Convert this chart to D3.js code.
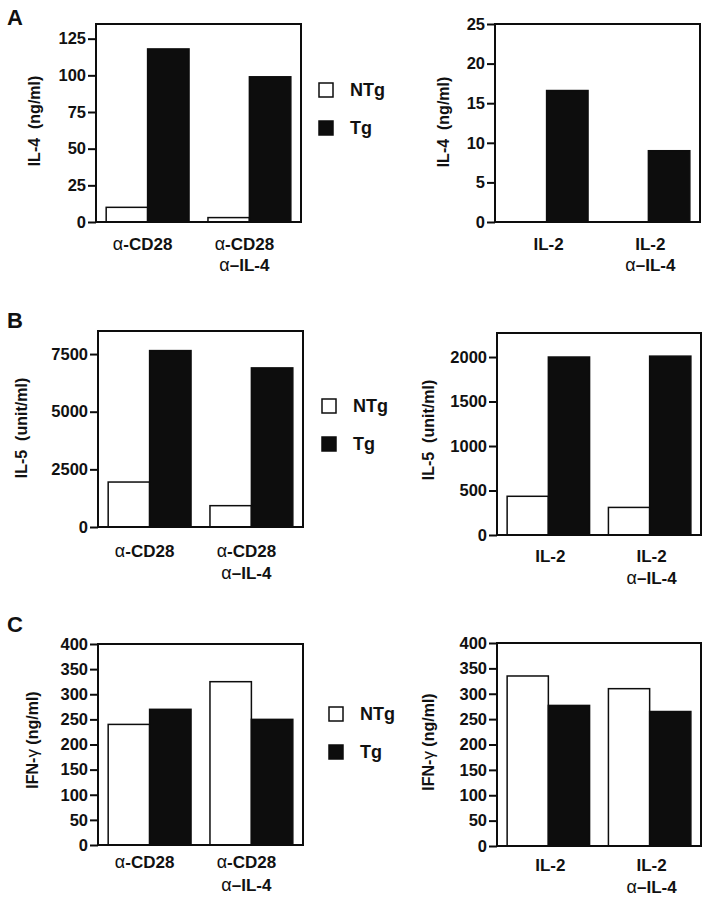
<!DOCTYPE html>
<html>
<head>
<meta charset="utf-8">
<script src="https://cdn.jsdelivr.net/npm/d3@7"></script>
<style>
  html, body { margin: 0; padding: 0; background: #fff; }
  svg { display: block; }
  text { font-family: "Liberation Sans", Arial, Helvetica, sans-serif; font-weight: bold; fill: #111; }
</style>
</head>
<body>
<svg id="chart" width="707" height="899"></svg>
<script>
// ---- data ----
const seriesNames = ["NTg", "Tg"];
const catsLeft = ["α-CD28", "α-CD28|α–IL-4"];
const catsRight = ["IL-2", "IL-2|α–IL-4"];

const il4LeftNTg = [10, 3];
const il4LeftTg = [118, 99];
const il4RightNTg = [0, 0];
const il4RightTg = [16.6, 9];

const il5LeftNTg = [1950, 925];
const il5LeftTg = [7650, 6900];
const il5RightNTg = [435, 310];
const il5RightTg = [2000, 2010];

const ifnLeftNTg = [240, 325];
const ifnLeftTg = [270, 250];
const ifnRightNTg = [335, 310];
const ifnRightTg = [277, 265];

const ticksIL4Left = [0, 25, 50, 75, 100, 125];
const ticksIL4Right = [0, 5, 10, 15, 20, 25];
const ticksIL5Left = [0, 2500, 5000, 7500];
const ticksIL5Right = [0, 500, 1000, 1500, 2000];
const ticksIFN = [0, 50, 100, 150, 200, 250, 300, 350, 400];

const titleIL4 = ["IL-4  (ng/ml)"];
const titleIL5 = ["IL-5  (unit/ml)"];
const titleIFN = ["IFN-", "γ", " (ng/ml)"];
const panelLetters = ["A", "B", "C"];

// ---- drawing ----
const svg = d3.select("#chart");
const INK = "#0d0d0d";

function drawPanel(p) {
  const g = svg.append("g");
  const y = d3.scaleLinear().domain([0, p.ymax]).range([p.y1, p.y0]);
  const x0 = d3.scaleBand().domain(p.cats).range([p.x0, p.x1])
    .paddingInner(0.186).paddingOuter(0.1);
  const x1 = d3.scaleBand().domain(seriesNames).range([0, x0.bandwidth()]);

  const rows = p.cats.map((c, i) => ({cat: c, vals: [p.ntg[i], p.tg[i]]}));
  const grp = g.selectAll("g.grp").data(rows).join("g")
    .attr("transform", d => `translate(${x0(d.cat)},0)`);
  grp.selectAll("rect").data(d => d.vals.map((v, k) => ({k, v})))
    .join("rect")
    .attr("x", d => x1(seriesNames[d.k]))
    .attr("width", x1.bandwidth())
    .attr("y", d => y(d.v))
    .attr("height", d => y(0) - y(d.v))
    .attr("fill", d => d.k === 0 ? "#fff" : INK)
    .attr("stroke", INK)
    .attr("stroke-width", 1.5);

  // frame
  g.append("rect")
    .attr("x", p.x0).attr("y", p.y0)
    .attr("width", p.x1 - p.x0).attr("height", p.y1 - p.y0)
    .attr("fill", "none").attr("stroke", INK).attr("stroke-width", 2);

  // y axis
  const ax = g.append("g").attr("transform", `translate(${p.x0},0)`)
    .call(d3.axisLeft(y).tickValues(p.ticks).tickFormat(d3.format("d"))
      .tickSize(8).tickPadding(2).tickSizeOuter(0));
  ax.select(".domain").remove();
  ax.selectAll(".tick line").attr("stroke", INK).attr("stroke-width", 2);
  ax.selectAll(".tick text").attr("font-size", 16.5).attr("fill", INK)
    .attr("font-family", "'Liberation Sans', Arial, sans-serif").attr("font-weight", "bold");

  // category labels
  rows.forEach((d, i) => {
    const lines = d.cat.split("|");
    const cx = x0(d.cat) + x0.bandwidth() / 2 + p.labelDx;
    lines.forEach((ln, j) => {
      const t = g.append("text")
        .attr("x", cx)
        .attr("y", p.y1 + p.labelOff + j * p.lineGap)
        .attr("text-anchor", "middle")
        .attr("font-size", 17);
      if (ln.startsWith("α")) {
        t.append("tspan").attr("font-weight", "normal").attr("font-size", 18).text("α");
        t.append("tspan").text(ln.slice(1));
      } else {
        t.text(ln);
      }
    });
  });

  // y title
  const tt = g.append("text")
    .attr("transform", `translate(${p.titleX + 5.5},${p.titleY}) rotate(-90)`)
    .attr("text-anchor", "middle")
    .attr("font-size", 16)
    .style("white-space", "pre");
  p.title.forEach(s => {
    const ts = tt.append("tspan").text(s);
    if (s === "γ") ts.attr("font-weight", "normal").attr("font-size", 17);
  });
}

function drawLegend(lx, ly, gap) {
  const g = svg.append("g");
  seriesNames.forEach((s, i) => {
    g.append("rect")
      .attr("x", lx).attr("y", ly + i * gap)
      .attr("width", 14).attr("height", 14)
      .attr("fill", i === 0 ? "#fff" : INK)
      .attr("stroke", INK).attr("stroke-width", 1.5);
    g.append("text")
      .attr("x", lx + 31).attr("y", ly + i * gap + 13)
      .attr("font-size", 18)
      .text(s);
  });
}

function letter(ch, x, yb) {
  svg.append("text").attr("x", x).attr("y", yb).attr("font-size", 22).text(ch);
}

// Panel A
letter(panelLetters[0], 7, 25);
drawPanel({cats: catsLeft, ntg: il4LeftNTg, tg: il4LeftTg, ymax: 135, ticks: ticksIL4Left,
  x0: 96, x1: 301, y0: 24, y1: 222, labelOff: 28, lineGap: 21, labelDx: -5,
  title: titleIL4, titleX: 34, titleY: 121});
drawPanel({cats: catsRight, ntg: il4RightNTg, tg: il4RightTg, ymax: 25, ticks: ticksIL4Right,
  x0: 495, x1: 700, y0: 24, y1: 222, labelOff: 28, lineGap: 21, labelDx: 2,
  title: titleIL4, titleX: 443, titleY: 122});
drawLegend(319, 83, 38);

// Panel B
letter(panelLetters[1], 7, 328);
drawPanel({cats: catsLeft, ntg: il5LeftNTg, tg: il5LeftTg, ymax: 8500, ticks: ticksIL5Left,
  x0: 98, x1: 303, y0: 331, y1: 527, labelOff: 30, lineGap: 22, labelDx: -5,
  title: titleIL5, titleX: 21, titleY: 428});
drawPanel({cats: catsRight, ntg: il5RightNTg, tg: il5RightTg, ymax: 2270, ticks: ticksIL5Right,
  x0: 497, x1: 701, y0: 333, y1: 535, labelOff: 27, lineGap: 22, labelDx: 2,
  title: titleIL5, titleX: 428, titleY: 430});
drawLegend(322, 399, 38);

// Panel C
letter(panelLetters[2], 7, 632);
drawPanel({cats: catsLeft, ntg: ifnLeftNTg, tg: ifnLeftTg, ymax: 400, ticks: ticksIFN,
  x0: 98, x1: 303, y0: 644, y1: 845, labelOff: 23, lineGap: 23, labelDx: -5,
  title: titleIFN, titleX: 32, titleY: 740});
drawPanel({cats: catsRight, ntg: ifnRightNTg, tg: ifnRightTg, ymax: 400, ticks: ticksIFN,
  x0: 497, x1: 701, y0: 643, y1: 846, labelOff: 25, lineGap: 22, labelDx: 2,
  title: titleIFN, titleX: 428, titleY: 742});
drawLegend(329, 707, 38);
</script>
</body>
</html>
